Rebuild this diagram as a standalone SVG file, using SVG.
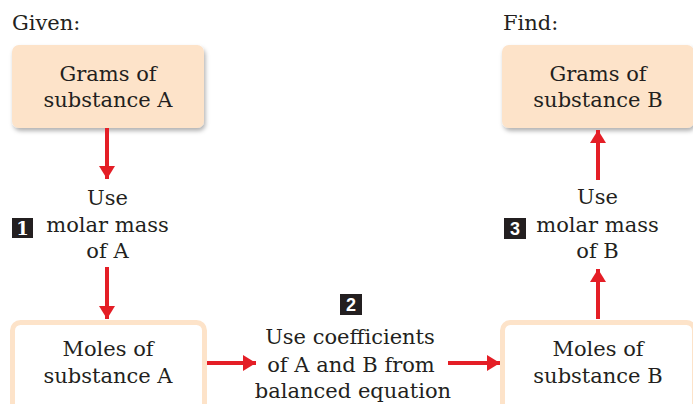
<svg xmlns="http://www.w3.org/2000/svg" width="693" height="404" viewBox="0 0 693 404">
<style>
text{font-family:"DejaVu Serif","Liberation Serif",serif;font-size:21px;fill:#231f20}
.c{text-anchor:middle}
.grams{fill:#fde3c9}
.moles{fill:#ffffff;stroke:#fde3c9;stroke-width:5}
.conn{stroke:#e41e26;stroke-width:4;fill:none}
.badge{fill:#231f20}
.bt{fill:#ffffff;font-weight:bold;font-size:18px;text-anchor:middle}
.bs{font-family:"Liberation Sans",Arial,sans-serif}
</style>
<defs>
<marker id="ah" markerUnits="userSpaceOnUse" markerWidth="14" markerHeight="16" refX="13" refY="8" orient="auto">
<path d="M0,0 L13,8 L0,16 Z" fill="#e41e26"/>
</marker>
<filter id="sh" x="-10%" y="-10%" width="125%" height="135%">
<feDropShadow dx="1.5" dy="3" stdDeviation="2" flood-color="#000" flood-opacity="0.3"/>
</filter>
</defs>
<text x="12" y="30">Given:</text>
<text x="503" y="30">Find:</text>
<g id="grams-a">
<rect class="grams" x="12" y="45" width="192" height="83" rx="7" filter="url(#sh)"/>
<text class="c" x="108" y="81">Grams of</text>
<text class="c" x="108" y="107">substance A</text>
</g>
<g id="grams-b">
<rect class="grams" x="502" y="45" width="192" height="83" rx="7" filter="url(#sh)"/>
<text class="c" x="598" y="81">Grams of</text>
<text class="c" x="598" y="107">substance B</text>
</g>
<g id="moles-a">
<rect class="moles" x="12.5" y="322.5" width="192" height="95" rx="8"/>
<text class="c" x="108" y="356">Moles of</text>
<text class="c" x="108" y="383">substance A</text>
</g>
<g id="moles-b">
<rect class="moles" x="502.5" y="322.5" width="192" height="95" rx="8"/>
<text class="c" x="598" y="356">Moles of</text>
<text class="c" x="598" y="383">substance B</text>
</g>
<g id="step1">
<rect class="badge" x="12" y="218" width="21" height="20"/>
<text class="bt" x="22.5" y="235">1</text>
<text class="c" x="107.5" y="205">Use</text>
<text class="c" x="107.5" y="232">molar mass</text>
<text class="c" x="107.5" y="258">of A</text>
</g>
<g id="step2">
<rect class="badge" x="340" y="294" width="22" height="21"/>
<text class="bt bs" x="351" y="311">2</text>
<text class="c" x="350" y="344">Use coefficients</text>
<text class="c" x="351" y="372">of A and B from</text>
<text class="c" x="353" y="398">balanced equation</text>
</g>
<g id="step3">
<rect class="badge" x="504" y="218" width="22" height="21"/>
<text class="bt bs" x="515" y="235">3</text>
<text class="c" x="597.5" y="204">Use</text>
<text class="c" x="597.5" y="232">molar mass</text>
<text class="c" x="597.5" y="258">of B</text>
</g>
<g id="connectors">
<line class="conn" x1="107" y1="128" x2="107" y2="179" marker-end="url(#ah)"/>
<line class="conn" x1="107" y1="267" x2="107" y2="319" marker-end="url(#ah)"/>
<line class="conn" x1="207" y1="363" x2="256" y2="363" marker-end="url(#ah)"/>
<line class="conn" x1="448" y1="363" x2="500" y2="363" marker-end="url(#ah)"/>
<line class="conn" x1="598" y1="319" x2="598" y2="269" marker-end="url(#ah)"/>
<line class="conn" x1="598" y1="180" x2="598" y2="130" marker-end="url(#ah)"/>
</g>
</svg>
